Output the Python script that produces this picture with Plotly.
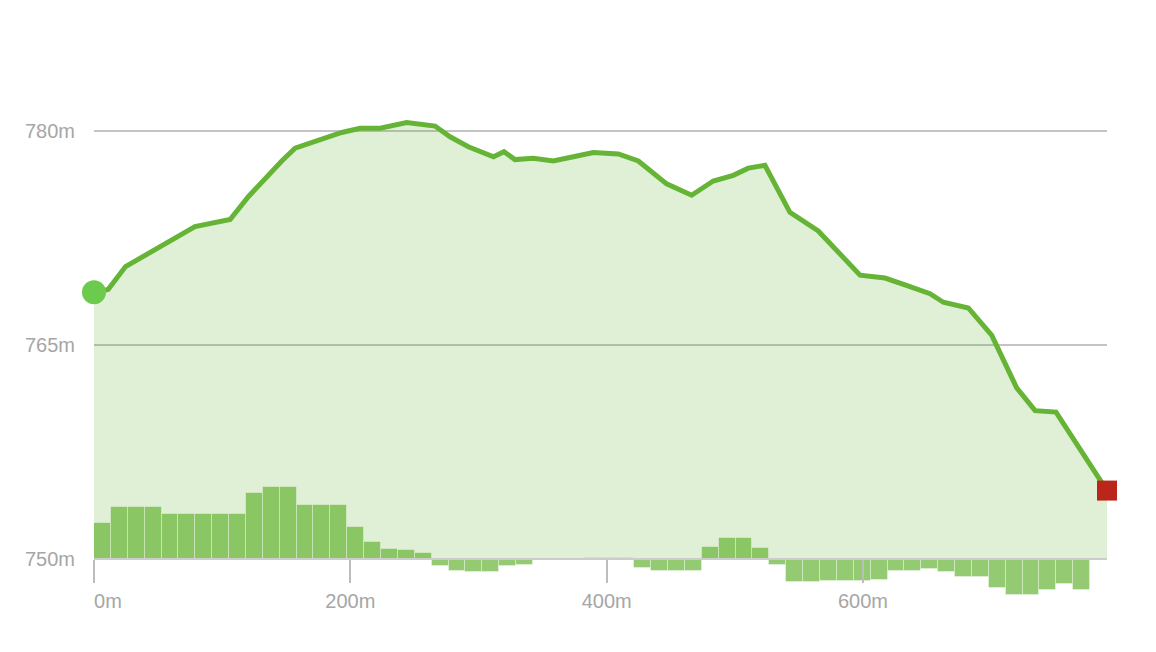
import plotly.graph_objects as go

# ---------------- data ----------------
distance_m = [0, 11, 24.6, 78.8, 106.2, 120.4, 146.5, 156.9, 193.3, 207.6, 223.2, 244,
              266.1, 277.8, 292.1, 305.2, 311.7, 319.9, 328.5, 342.8, 358.4, 374, 389.6,
              409.1, 424.7, 446.8, 466.3, 483.2, 498.8, 510.5, 523.5, 543, 565.1, 597.7,
              617.2, 636.7, 652.3, 662.7, 682.2, 700.4, 719.9, 734.3, 750.6, 790.4]
elevation_m = [768.7, 768.9, 770.5, 773.3, 773.8, 775.4, 777.9, 778.8, 779.9, 780.2, 780.2, 780.6,
               780.35, 779.6, 778.9, 778.4, 778.2, 778.55, 778.0, 778.1, 777.9, 778.2, 778.5,
               778.4, 777.9, 776.3, 775.5, 776.5, 776.9, 777.4, 777.6, 774.3, 773.0, 769.9,
               769.7, 769.1, 768.6, 768.0, 767.6, 765.7, 762.0, 760.4, 760.3, 754.8]

# gradient (%) for each equal-length segment of the route
grade_pct = [5.0, 7.2, 7.2, 7.2, 6.2, 6.2, 6.2, 6.2, 6.2, 9.1,
             10.0, 10.0, 7.4, 7.4, 7.4, 4.4, 2.3, 1.4, 1.2, 0.8,
             -0.9, -1.7, -1.8, -1.8, -0.9, -0.8, -0.15, -0.15, -0.15, 0.18,
             0.18, 0.18, -1.2, -1.6, -1.6, -1.6, 1.7, 2.9, 2.9, 1.5,
             -0.8, -3.2, -3.2, -3.0, -3.0, -3.0, -2.9, -1.6, -1.6, -1.4,
             -1.8, -2.5, -2.5, -4.0, -4.9, -4.9, -4.3, -3.4, -4.2]
n_segments = 60

x_tick_vals = [0, 200, 400, 600]
x_tick_text = ["\u00a0\u00a0\u00a0\u00a0\u00a00m", "200m", "400m", "600m"]
y_tick_vals = [750, 765, 780]
y_tick_text = ["750m", "765m", "780m"]

# ---------------- derived ----------------
total = distance_m[-1]
seg_len = total / n_segments
bar_x = [seg_len * (i + 0.5) for i in range(len(grade_pct))]
base_elev = 750

Y_LO, Y_HI = 747.2, 784
W, H = 1156, 652
M_L, M_R, M_T, M_B = 94, 49, 73.5, 52.7
plot_h = H - M_T - M_B
px_per_pct = 7.26
frac0 = (base_elev - Y_LO) / (Y_HI - Y_LO)
span2 = plot_h / px_per_pct
y2_range = [-frac0 * span2, (1 - frac0) * span2]

LINE = "#66b436"
fig = go.Figure()

# baseline for fill
fig.add_trace(go.Scatter(x=[0, total], y=[base_elev, base_elev], mode="lines",
                         line=dict(width=0, color="rgba(0,0,0,0)"), hoverinfo="skip",
                         showlegend=False))
fig.add_trace(go.Scatter(x=distance_m, y=elevation_m, mode="lines",
                         line=dict(color=LINE, width=5),
                         fill="tonexty", fillcolor="rgba(102,180,52,0.2)",
                         showlegend=False))
fig.add_trace(go.Bar(x=bar_x, y=grade_pct, width=seg_len, yaxis="y2",
                     marker=dict(color="rgba(102,180,52,0.7)",
                                 line=dict(color="rgba(255,255,255,0.35)", width=1)),
                     showlegend=False))
# start / end markers
fig.add_trace(go.Scatter(x=[distance_m[0]], y=[elevation_m[0]], mode="markers",
                         marker=dict(symbol="circle", size=24, color="#6ccb4c"),
                         cliponaxis=False, showlegend=False))
fig.add_trace(go.Scatter(x=[distance_m[-1]], y=[elevation_m[-1]], mode="markers",
                         marker=dict(symbol="square", size=20, color="#bb261b"),
                         cliponaxis=False, showlegend=False))

FONT = dict(family="Liberation Sans, Arial, sans-serif", size=20, color="#a6a6a6")
fig.update_layout(
    width=W, height=H,
    margin=dict(l=M_L, r=M_R, t=M_T, b=M_B, pad=0),
    paper_bgcolor="white", plot_bgcolor="rgba(0,0,0,0)",
    showlegend=False,
    bargap=0,
    xaxis=dict(range=[0, total], anchor="free", position=frac0,
               tickvals=x_tick_vals, ticktext=x_tick_text,
               ticks="outside", ticklen=23, tickwidth=2, tickcolor="#bdbdbd",
               showline=True, linecolor="#cccccc", linewidth=2,
               showgrid=False, zeroline=False, tickfont=FONT,
               ticklabelstandoff=1, fixedrange=True),
    yaxis=dict(range=[Y_LO, Y_HI], tickvals=y_tick_vals, ticktext=y_tick_text,
               showgrid=True, gridcolor="#c4c4c4", gridwidth=1.5,
               zeroline=False, showline=False, ticks="", tickfont=FONT,
               ticklabelstandoff=18, fixedrange=True),
    yaxis2=dict(range=y2_range, overlaying="y", visible=False, showgrid=False,
                zeroline=False, fixedrange=True),
)

fig.write_html("out.html")
